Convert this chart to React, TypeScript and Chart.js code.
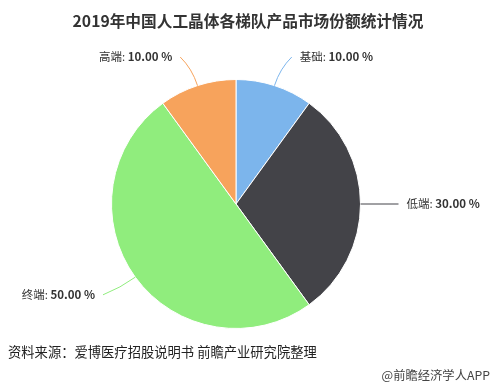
import React, { useEffect, useRef } from "react";
import { Chart, registerables } from "chart.js";

Chart.register(...registerables);

const categories = ["基础", "低端", "终端", "高端"];
const shares = [10, 30, 50, 10];
const colors = ["#7cb5ec", "#434348", "#90ed7d", "#f7a35c"];
const titleText = "2019年中国人工晶体各梯队产品市场份额统计情况";
const sourceText = "资料来源：爱博医疗招股说明书 前瞻产业研究院整理";
const brandText = "@前瞻经济学人APP";

const FONT = '"Noto Sans CJK SC", "Noto Sans", sans-serif';

const labelPlugin = {
  id: "labelPlugin",
  afterDraw(chart: any) {
    const ctx = chart.ctx;
    const meta = chart.getDatasetMeta(0);
    ctx.save();
    // title
    ctx.fillStyle = "#333";
    ctx.font = `bold 15.7px ${FONT}`;
    ctx.textAlign = "center";
    ctx.textBaseline = "middle";
    ctx.fillText(titleText, 248, 21);
    // source
    ctx.textAlign = "left";
    ctx.font = `13.3px ${FONT}`;
    ctx.fillStyle = "#222";
    ctx.fillText(sourceText, 8, 352);
    ctx.textAlign = "right";
    ctx.font = `12.3px ${FONT}`;
    ctx.fillStyle = "#444";
    ctx.fillText(brandText, 490, 375);

    meta.data.forEach((arc: any, i: number) => {
      const { x, y, outerRadius, startAngle, endAngle } = arc.getProps(
        ["x", "y", "outerRadius", "startAngle", "endAngle"],
        true
      );
      const mid = (startAngle + endAngle) / 2;
      const cx = Math.cos(mid);
      const cy = Math.sin(mid);
      const px = x + cx * outerRadius;
      const py = y + cy * outerRadius;
      const right = cx >= 0;
      const lx = x + cx * (outerRadius + 30);
      const ly = y + cy * (outerRadius + 30);
      const ex = lx + (right ? 8 : -8);
      const ey = ly;
      ctx.strokeStyle = colors[i];
      ctx.lineWidth = 1;
      ctx.beginPath();
      ctx.moveTo(px, py);
      ctx.quadraticCurveTo(
        x + cx * (outerRadius + 18),
        y + cy * (outerRadius + 18),
        ex,
        ey
      );
      ctx.stroke();
      const name = categories[i] + ": ";
      const val = shares[i].toFixed(2) + " %";
      ctx.textBaseline = "middle";
      ctx.fillStyle = "#333";
      ctx.font = `11.5px ${FONT}`;
      const nw = ctx.measureText(name).width;
      ctx.font = `bold 11.5px ${FONT}`;
      const vw = ctx.measureText(val).width;
      const tx = right ? ex + 8 : ex - 8 - nw - vw;
      ctx.textAlign = "left";
      ctx.font = `11.5px ${FONT}`;
      ctx.fillText(name, tx, ey);
      ctx.font = `bold 11.5px ${FONT}`;
      ctx.fillText(val, tx + nw, ey);
    });
    ctx.restore();
  },
};

export default function App() {
  const ref = useRef<HTMLCanvasElement>(null);
  useEffect(() => {
    if (!ref.current) return;
    const chart = new Chart(ref.current, {
      type: "pie",
      data: {
        labels: categories,
        datasets: [
          {
            data: shares,
            backgroundColor: colors,
            borderColor: "#ffffff",
            borderWidth: 1,
          },
        ],
      },
      options: {
        responsive: false,
        animation: false,
        layout: { padding: { left: 111, right: 135, top: 79, bottom: 56 } },
        plugins: {
          legend: { display: false },
          tooltip: { enabled: false },
          title: { display: false },
        },
      },
      plugins: [labelPlugin],
    });
    return () => chart.destroy();
  }, []);
  return (
    <div style={{ position: "fixed", left: 0, top: 0, width: 496, height: 385, background: "#fff" }}>
      <canvas ref={ref} width={496} height={385} style={{ width: 496, height: 385 }} />
    </div>
  );
}
